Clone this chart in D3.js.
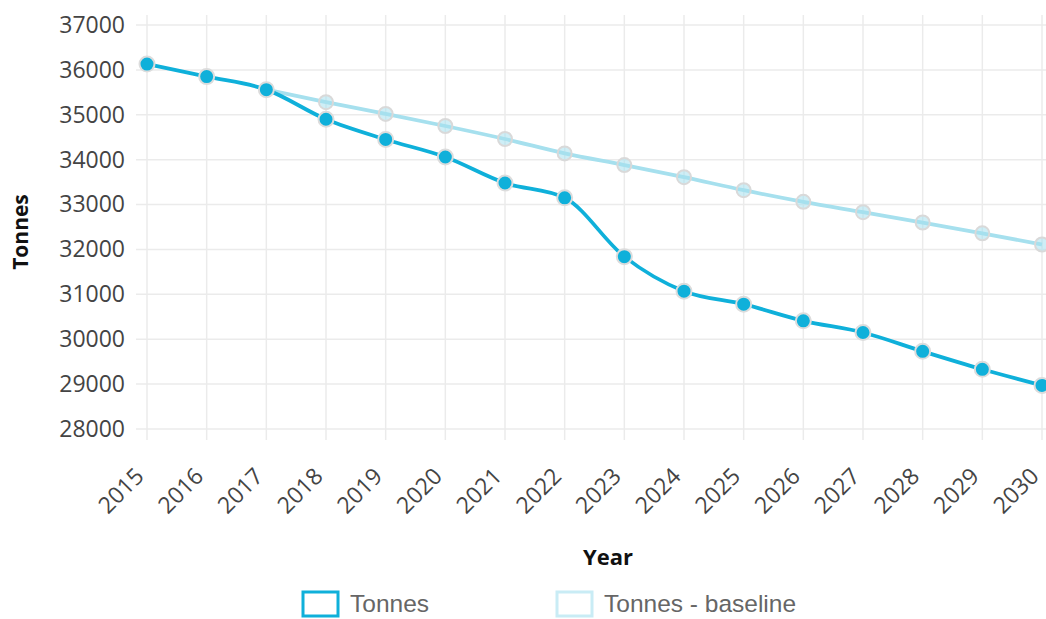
<!DOCTYPE html>
<html>
<head>
<meta charset="utf-8">
<script src="https://cdn.jsdelivr.net/npm/d3@7/dist/d3.min.js"></script>
<style>
  html, body { margin: 0; padding: 0; background: #fff; }
  svg { display: block; }
</style>
</head>
<body>
<svg id="chart" width="1046" height="619"></svg>
<script>
// Annual tonnage, projected and baseline
const years = [2015, 2016, 2017, 2018, 2019, 2020, 2021, 2022, 2023, 2024, 2025, 2026, 2027, 2028, 2029, 2030];
const tonnes = [36130, 35850, 35560, 34900, 34450, 34060, 33480, 33150, 31840, 31070, 30780, 30410, 30150, 29730, 29330, 28970];
const baseline = [null, null, 35560, 35280, 35020, 34750, 34460, 34140, 33880, 33610, 33320, 33060, 32830, 32600, 32360, 32110];
const yTicks = [28000, 29000, 30000, 31000, 32000, 33000, 34000, 35000, 36000, 37000];
const seriesNames = ["Tonnes", "Tonnes - baseline"];

const svg = d3.select("#chart");
const plotLeft = 147, plotRight = 1042, plotTop = 25, plotBottom = 429;
const font = "'Open Sans', sans-serif";

const x = d3.scalePoint().domain(years).range([plotLeft, plotRight]);
const y = d3.scaleLinear().domain([28000, 37000]).range([plotBottom, plotTop]);

// grid
const grid = svg.append("g").attr("stroke", "#ebebeb").attr("stroke-width", 1.5);
grid.selectAll("line.h").data(yTicks).join("line").attr("class", "h")
  .attr("x1", 136).attr("x2", 1046)
  .attr("y1", d => y(d)).attr("y2", d => y(d));
grid.selectAll("line.v").data(years).join("line").attr("class", "v")
  .attr("x1", d => x(d)).attr("x2", d => x(d))
  .attr("y1", 15).attr("y2", 440);

// y axis labels
const yAxis = svg.append("g").attr("transform", `translate(${plotLeft - 11},0)`)
  .call(d3.axisLeft(y).tickValues(yTicks).tickFormat(d3.format("d")).tickSize(0).tickPadding(11));
yAxis.select(".domain").remove();
yAxis.selectAll("text").attr("font-family", font).attr("font-size", 23).attr("fill", "#444");

// x axis labels, rotated
const xAxis = svg.append("g").attr("transform", `translate(0,${plotBottom + 11})`)
  .call(d3.axisBottom(x).tickSize(0).tickPadding(0).tickFormat(d3.format("d")));
xAxis.select(".domain").remove();
xAxis.selectAll("text")
  .attr("font-family", font).attr("font-size", 23).attr("fill", "#444")
  .attr("text-anchor", "end").attr("y", 0).attr("dy", "0.35em")
  .attr("transform", "translate(-8,32) rotate(-45)");

// axis titles
svg.append("text").attr("x", 608).attr("y", 565).attr("text-anchor", "middle")
  .attr("font-family", font).attr("font-size", 22).attr("font-weight", "bold").attr("fill", "#111")
  .text("Year");
svg.append("text").attr("transform", "translate(28,232) rotate(-90)").attr("text-anchor", "middle")
  .attr("font-family", font).attr("font-size", 21).attr("font-weight", "bold").attr("fill", "#111")
  .text("Tonnes");

const colors = ["#0fb0da", "#a6e0ee"];
const line = d3.line()
  .defined(d => d[1] != null)
  .x(d => x(d[0])).y(d => y(d[1]))
  .curve(d3.curveMonotoneX);

const baseData = years.map((yr, i) => [yr, baseline[i]]);
const tonData = years.map((yr, i) => [yr, tonnes[i]]);

// baseline series
svg.append("path").datum(baseData).attr("d", line)
  .attr("fill", "none").attr("stroke", colors[1]).attr("stroke-width", 3.8);
svg.append("g").selectAll("circle").data(baseData.filter(d => d[1] != null && d[0] > 2017)).join("circle")
  .attr("cx", d => x(d[0])).attr("cy", d => y(d[1])).attr("r", 7)
  .attr("fill", "#a6e0ee").attr("fill-opacity", 0.55)
  .attr("stroke", "#d9d9d9").attr("stroke-width", 2);

// projected series
svg.append("path").datum(tonData).attr("d", line)
  .attr("fill", "none").attr("stroke", colors[0]).attr("stroke-width", 3.8);
svg.append("g").selectAll("circle").data(tonData).join("circle")
  .attr("cx", d => x(d[0])).attr("cy", d => y(d[1])).attr("r", 7.5)
  .attr("fill", colors[0])
  .attr("stroke", "#dcdcdc").attr("stroke-width", 2);

// legend
const legendX = [303, 557];
const lg = svg.append("g").selectAll("g").data(seriesNames).join("g")
  .attr("transform", (d, i) => `translate(${legendX[i]},592)`);
lg.append("rect").attr("width", 35).attr("height", 24)
  .attr("fill", "none").attr("stroke-width", 3)
  .attr("stroke", (d, i) => i === 0 ? colors[0] : "#c9ecf5");
lg.append("text").attr("x", 47).attr("y", 20)
  .attr("font-family", "'Liberation Sans', Arial, sans-serif").attr("font-size", 24.5).attr("fill", "#666")
  .text(d => d);
</script>
</body>
</html>
